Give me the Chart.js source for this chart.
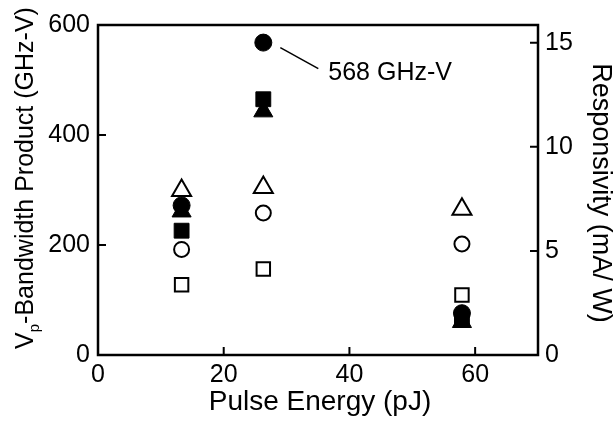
<!DOCTYPE html>
<html>
<head>
<meta charset="utf-8">
<script src="https://cdn.jsdelivr.net/npm/chart.js"></script>
<style>
    html, body { margin: 0; padding: 0; background: #fff; }
    #wrap { width: 615px; height: 422px; }
</style>
</head>
<body>
<div id="wrap"><canvas id="myChart" width="615" height="422"></canvas></div>
<script>
// pulse energy (pJ) for the three measurements
const energy = [13.3, 26.3, 57.9];

// Vp-bandwidth product (GHz-V), filled markers, left axis
const bwCircle   = [272, 568, 76];
const bwSquare   = [226, 465, 66];
const bwTriangle = [261, 443, 60];

// responsivity (mA/W), open markers, right axis
const respTriangle = [7.9, 8.05, 7.0];
const respCircle   = [5.07, 6.82, 5.33];
const respSquare   = [3.37, 4.13, 2.88];

const xTicks = [0, 20, 40, 60];
const leftTicks = [0, 200, 400, 600];
const rightTicks = [0, 5, 10, 15];

const FONT = '"Liberation Sans", Arial, sans-serif';

function points(ys) {
    return energy.map((x, i) => ({ x: x, y: ys[i] }));
}

function series(ys, style, radius, filled, axis) {
    return {
        data: points(ys),
        pointStyle: style,
        pointRadius: radius,
        backgroundColor: filled ? '#000' : '#fff',
        borderColor: '#000',
        borderWidth: filled ? 1 : 2,
        showLine: false,
        yAxisID: axis,
    };
}

const frame = {
    id: 'frame',
    beforeDatasetsDraw(chart) {
        const { ctx, chartArea: a, scales } = chart;
        ctx.save();
        ctx.strokeStyle = '#000';
        ctx.lineWidth = 2.5;
        ctx.strokeRect(a.left, a.top, a.right - a.left, a.bottom - a.top);
        ctx.lineWidth = 2;
        ctx.beginPath();
        xTicks.forEach(v => {
            const px = scales.x.getPixelForValue(v);
            ctx.moveTo(px, a.bottom); ctx.lineTo(px, a.bottom - 8);
        });
        leftTicks.forEach(v => {
            const py = scales.y.getPixelForValue(v);
            ctx.moveTo(a.left, py); ctx.lineTo(a.left + 8, py);
        });
        rightTicks.forEach(v => {
            const py = scales.y2.getPixelForValue(v);
            ctx.moveTo(a.right, py); ctx.lineTo(a.right - 8, py);
        });
        ctx.stroke();
        ctx.restore();
    },
    afterDraw(chart) {
        const { ctx, chartArea: a } = chart;
        ctx.save();
        ctx.fillStyle = '#000';
        ctx.strokeStyle = '#000';

        // x title
        ctx.font = '28px ' + FONT;
        ctx.textAlign = 'center';
        ctx.textBaseline = 'middle';
        ctx.fillText('Pulse Energy (pJ)', (a.left + a.right) / 2 + 2, 402);

        // left title with subscript p
        ctx.save();
        ctx.translate(24, 178);
        ctx.rotate(-Math.PI / 2);
        ctx.textAlign = 'left';
        ctx.textBaseline = 'alphabetic';
        const big = '25px ' + FONT, small = '15px ' + FONT;
        ctx.font = big;
        const w1 = ctx.measureText('V').width;
        const w3 = ctx.measureText('-Bandwidth Product (GHz-V)').width;
        ctx.font = small;
        const w2 = ctx.measureText('p').width;
        let x0 = -(w1 + w2 + w3) / 2;
        const base = 9;
        ctx.font = big;
        ctx.fillText('V', x0, base);
        ctx.font = small;
        ctx.fillText('p', x0 + w1, base + 6);
        ctx.font = big;
        ctx.fillText('-Bandwidth Product (GHz-V)', x0 + w1 + w2, base);
        ctx.restore();

        // right title
        ctx.save();
        ctx.translate(600, 193);
        ctx.rotate(Math.PI / 2);
        ctx.font = '27px ' + FONT;
        ctx.textAlign = 'center';
        ctx.textBaseline = 'middle';
        ctx.fillText('Responsivity (mA/ W)', 0, 0);
        ctx.restore();

        // callout for the peak value
        const pt = chart.getDatasetMeta(0).data[1];
        ctx.lineWidth = 1.5;
        ctx.beginPath();
        ctx.moveTo(pt.x + 17, pt.y + 5);
        ctx.lineTo(pt.x + 55, pt.y + 26);
        ctx.stroke();
        ctx.font = '25px ' + FONT;
        ctx.textAlign = 'left';
        ctx.textBaseline = 'middle';
        ctx.fillText('568 GHz-V', pt.x + 65, pt.y + 31);
        ctx.restore();
    }
};

const ctx = document.getElementById('myChart').getContext('2d');
const myChart = new Chart(ctx, {
    type: 'scatter',
    data: {
        datasets: [
            series(bwCircle, 'circle', 8.5, true, 'y'),
            series(bwSquare, 'rect', 10.5, true, 'y'),
            series(bwTriangle, 'triangle', 11, true, 'y'),
            series(respTriangle, 'triangle', 11, false, 'y2'),
            series(respCircle, 'circle', 7.5, false, 'y2'),
            series(respSquare, 'rect', 9.5, false, 'y2'),
        ],
    },
    options: {
        responsive: false,
        devicePixelRatio: 1,
        animation: false,
        events: [],
        layout: { padding: { top: 25, left: 0, right: 0, bottom: 0 } },
        plugins: { legend: { display: false }, tooltip: { enabled: false } },
        scales: {
            x: {
                type: 'linear',
                position: 'bottom',
                min: 0,
                max: 70,
                grid: { display: false, drawTicks: false },
                border: { display: false },
                ticks: { color: '#000', font: { family: FONT, size: 25 }, padding: 5 },
                afterBuildTicks: s => { s.ticks = xTicks.map(v => ({ value: v })); },
                afterFit: s => { s.height = 67; },
            },
            y: {
                type: 'linear',
                position: 'left',
                min: 0,
                max: 600,
                grid: { display: false, drawTicks: false },
                border: { display: false },
                ticks: { color: '#000', font: { family: FONT, size: 25 }, padding: 8 },
                afterBuildTicks: s => { s.ticks = leftTicks.map(v => ({ value: v })); },
                afterFit: s => { s.width = 98; },
            },
            y2: {
                type: 'linear',
                position: 'right',
                min: 0,
                max: 15.85,
                grid: { display: false, drawTicks: false },
                border: { display: false },
                ticks: { color: '#000', font: { family: FONT, size: 25 }, padding: 7 },
                afterBuildTicks: s => { s.ticks = rightTicks.map(v => ({ value: v })); },
                afterFit: s => { s.width = 77; },
            },
        },
    },
    plugins: [frame],
});
</script>
</body>
</html>
